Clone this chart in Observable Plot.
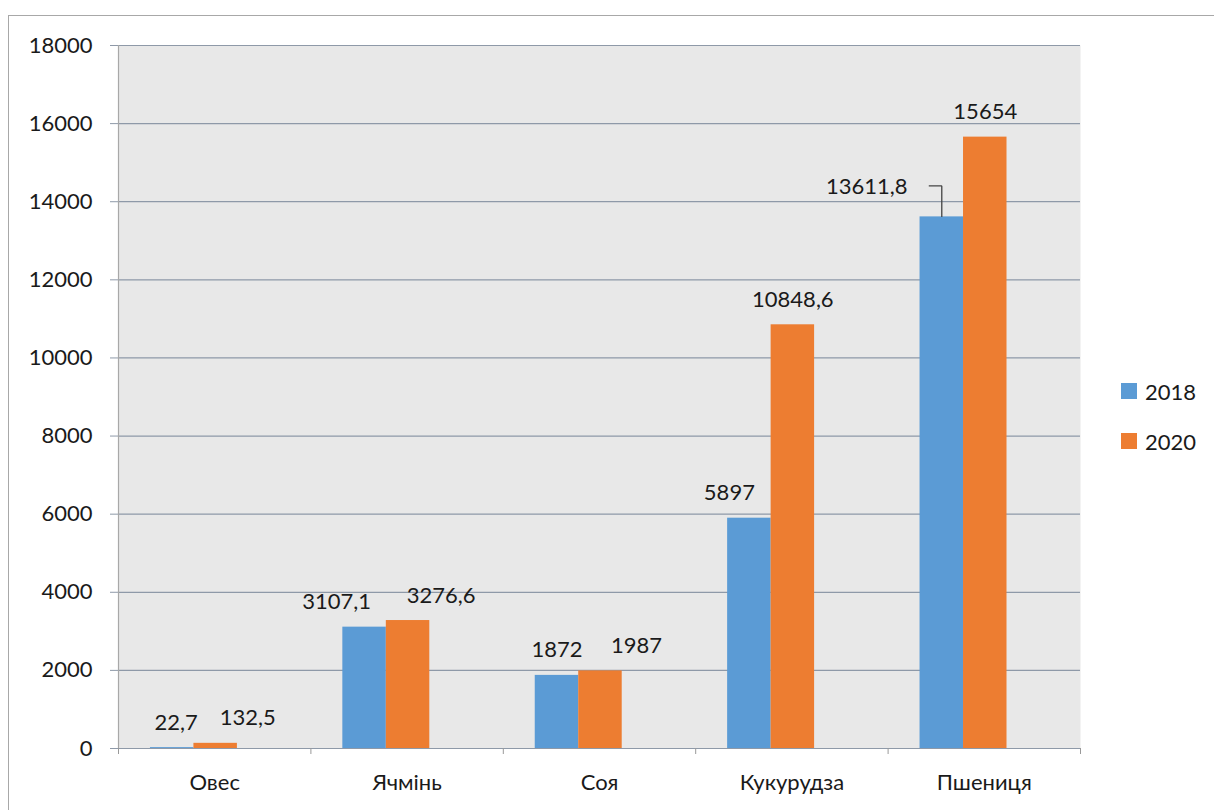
<!DOCTYPE html>
<html>
<head>
<meta charset="utf-8">
<script src="https://cdn.jsdelivr.net/npm/d3@7"></script>
<script src="https://cdn.jsdelivr.net/npm/@observablehq/plot@0.6"></script>
<style>
  html, body { margin: 0; padding: 0; background: #fff; overflow: hidden; }
  #wrap { position: relative; width: 1214px; height: 810px; font-family: Lato, "Open Sans", sans-serif; }
  #border { position: absolute; left: 8px; top: 15px; right: 0; bottom: 0;
            border-left: 1.5px solid #a8a8a8; border-top: 1.5px solid #a8a8a8; }
  #chart { position: absolute; left: 0; top: 0; }
  #legend { position: absolute; left: 1121px; top: 380px; font-size: 22px; color: #1a1a1a; }
  #legend .item { display: flex; align-items: center; height: 22px; margin-bottom: 28px; }
  #legend .sw { width: 16px; height: 16px; margin-right: 8px; }
</style>
</head>
<body>
<div id="wrap">
  <div id="border"></div>
  <div id="chart"></div>
  <div id="legend"></div>
</div>
<script>
// Crop harvest by year
const categories = ["Овес", "Ячмінь", "Соя", "Кукурудза", "Пшениця"];
const years = ["2018", "2020"];
const values2018 = [22.7, 3107.1, 1872, 5897, 13611.8];
const values2020 = [132.5, 3276.6, 1987, 10848.6, 15654];
const yTicks = [0, 2000, 4000, 6000, 8000, 10000, 12000, 14000, 16000, 18000];
const colors = ["#5b9bd5", "#ed7d31"];

// Hand-placed value label offsets (px), per year then per category
const labelShift2018 = [4, -28, 0, -20, -75];
const labelShift2020 = [32, 33, 36, 0, 0];

// Layout
const W = 1214, H = 810;
const mL = 118, mR = 134, mT = 45, mB = 62;
const yMax = 18000;
const groupStart = 0.166;   // left edge of the bar pair within a category band
const barWidth = 0.226;     // one bar, as a fraction of the band
const pxPerX = (W - mL - mR) / categories.length;
const pxPerY = (H - mT - mB) / yMax;

const rows = [];
categories.forEach((c, i) => {
  [values2018, values2020].forEach((vals, k) => {
    const xc = i + groupStart + (k + 0.5) * barWidth;
    const shift = (k === 0 ? labelShift2018 : labelShift2020)[i];
    rows.push({
      cat: c, i, year: years[k], value: vals[i],
      x1: i + groupStart + k * barWidth,
      x2: i + groupStart + (k + 1) * barWidth,
      xc, shift,
      lx: xc + shift / pxPerX
    });
  });
});

const fmt = v => String(v).replace(".", ",");

// Leader line for the label that was moved well off its bar
const leaders = rows.filter(d => Math.abs(d.shift) > 50).map(d => ({
  x1: d.xc, y1: d.value,
  x2: d.xc - 13 / pxPerX, y2: d.value + 31 / pxPerY
}));
const moved = new Set(leaders.length ? rows.filter(d => Math.abs(d.shift) > 50) : []);

const font = "Lato, 'Open Sans', sans-serif";
const gridColor = "#8e99a8";

const chart = Plot.plot({
  width: W, height: H,
  marginLeft: mL, marginRight: mR, marginTop: mT, marginBottom: mB,
  style: { background: "transparent", fontFamily: font, fontSize: "22px", color: "#1a1a1a" },
  x: { type: "linear", domain: [0, categories.length], axis: null },
  y: { domain: [0, yMax], axis: null },
  marks: [
    Plot.frame({ fill: "#e8e8e8", stroke: null }),
    Plot.gridY(yTicks, { stroke: gridColor, strokeOpacity: 1, strokeWidth: 1.2 }),
    Plot.axisY(yTicks, {
      tickSize: 8, tickPadding: 18, stroke: gridColor,
      tickFormat: d => String(d), fontSize: 22, fill: "#1a1a1a", label: null
    }),
    Plot.ruleX([0], { stroke: "#a8a8a8", strokeWidth: 1.2 }),
    Plot.axisX(d3.range(categories.length + 1), {
      tickSize: 6, stroke: "#999", tickFormat: () => "", label: null
    }),
    Plot.axisX(categories.map((_, i) => i + 0.5), {
      tickSize: 0, tickPadding: 26, tickFormat: d => categories[Math.floor(d)],
      fontSize: 22, fill: "#1a1a1a", label: null
    }),
    Plot.rectY(rows, {
      x1: "x1", x2: "x2", y1: 0, y2: "value",
      fill: d => colors[years.indexOf(d.year)]
    }),
    Plot.link(leaders, {
      x1: "x1", y1: "y1", x2: "x2", y2: "y2",
      curve: "step-before", stroke: "#444", strokeWidth: 1.3
    }),
    // labels above their bars
    Plot.text(rows.filter(d => !moved.has(d)), {
      x: "lx", y: "value", text: d => fmt(d.value),
      dy: -25, fontSize: 22, fill: "#1a1a1a", lineAnchor: "middle"
    }),
    // labels pulled aside, attached through a leader line
    Plot.text(rows.filter(d => moved.has(d)), {
      x: "lx", y: "value", text: d => fmt(d.value),
      dy: -30, fontSize: 22, fill: "#1a1a1a", lineAnchor: "middle"
    })
  ]
});
document.getElementById("chart").appendChild(chart);

// Legend
const legend = document.getElementById("legend");
years.forEach((y, k) => {
  const item = document.createElement("div");
  item.className = "item";
  const sw = document.createElement("div");
  sw.className = "sw";
  sw.style.background = colors[k];
  const label = document.createElement("span");
  label.textContent = y;
  item.appendChild(sw);
  item.appendChild(label);
  legend.appendChild(item);
});
</script>
</body>
</html>
